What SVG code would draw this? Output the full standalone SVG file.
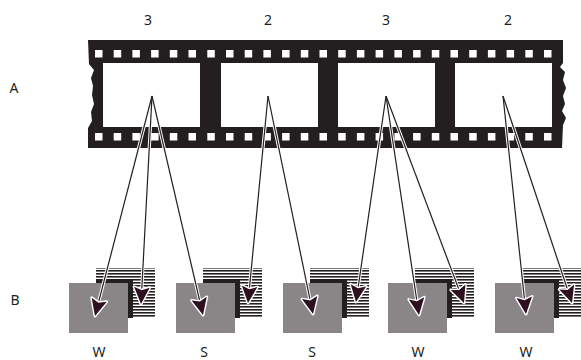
<svg xmlns="http://www.w3.org/2000/svg" width="581" height="360" viewBox="0 0 581 360">
<style>
.lbl{font-family:"Noto Sans","Liberation Sans",sans-serif;font-size:14px;fill:#231f20;text-anchor:middle}
.win{fill:#fff}
.hole{fill:#fff}
.gray{fill:#8a8688}
.shadow{fill:#231f20}
.stripes{fill:url(#hatch)}
.casing{stroke:#fff;stroke-width:3.2;fill:none}
.wire{stroke:#231f20;stroke-width:1.2;fill:none;marker-end:url(#ah)}
</style>
<defs>
<pattern id="hatch" patternUnits="userSpaceOnUse" x="0" y="0" width="4" height="3">
<rect x="0" y="0" width="4" height="3" fill="#fff"/>
<rect x="0" y="0" width="4" height="1.6" fill="#231f20"/>
</pattern>
<marker id="ah" markerUnits="userSpaceOnUse" markerWidth="24" markerHeight="24" refX="0" refY="0" viewBox="-18 -10 20 20" orient="auto" overflow="visible">
<path d="M0,0 L-14,-6.5 L-11.5,0 L-14,6.5 Z" fill="#2e0f20" stroke="#fff" stroke-width="2.4" stroke-linejoin="round" paint-order="stroke"/>
</marker>
</defs>
<rect width="581" height="360" fill="#fff"/>

<g id="labels">
<text class="lbl" x="148" y="25">3</text>
<text class="lbl" x="268" y="25">2</text>
<text class="lbl" x="386" y="25">3</text>
<text class="lbl" x="508" y="25">2</text>
<text class="lbl" x="14" y="93">A</text>
<text class="lbl" x="15" y="305">B</text>
<text class="lbl" x="99" y="357">W</text>
<text class="lbl" x="204" y="357">S</text>
<text class="lbl" x="312" y="357">S</text>
<text class="lbl" x="418" y="357">W</text>
<text class="lbl" x="526" y="357">W</text>
</g>

<g id="filmstrip">
<path fill="#231f20" d="M88,40 L563,40 L563,63 L560,67 L565,72 L563,80 L566,88 L563,96 L565,104 L562,111 L566,118 L563,125 L562,148 L88,148 L88,128 L92,121 L91,112 L94,104 L92,95 L93,86 L91,78 L94,70 L89,64 Z"/>
<rect class="win" x="103" y="63" width="97" height="64"/>
<rect class="win" x="221" y="63" width="97" height="64"/>
<rect class="win" x="338" y="63" width="97" height="64"/>
<rect class="win" x="455" y="63" width="97" height="64"/>
<g id="holes-top">
<rect class="hole" x="95" y="50" width="7.5" height="7.5"/>
<rect class="hole" x="113.7" y="50" width="7.5" height="7.5"/>
<rect class="hole" x="132.4" y="50" width="7.5" height="7.5"/>
<rect class="hole" x="151.1" y="50" width="7.5" height="7.5"/>
<rect class="hole" x="169.8" y="50" width="7.5" height="7.5"/>
<rect class="hole" x="188.5" y="50" width="7.5" height="7.5"/>
<rect class="hole" x="207.3" y="50" width="7.5" height="7.5"/>
<rect class="hole" x="226" y="50" width="7.5" height="7.5"/>
<rect class="hole" x="244.7" y="50" width="7.5" height="7.5"/>
<rect class="hole" x="263.4" y="50" width="7.5" height="7.5"/>
<rect class="hole" x="282.1" y="50" width="7.5" height="7.5"/>
<rect class="hole" x="300.8" y="50" width="7.5" height="7.5"/>
<rect class="hole" x="319.5" y="50" width="7.5" height="7.5"/>
<rect class="hole" x="338.2" y="50" width="7.5" height="7.5"/>
<rect class="hole" x="356.9" y="50" width="7.5" height="7.5"/>
<rect class="hole" x="375.6" y="50" width="7.5" height="7.5"/>
<rect class="hole" x="394.4" y="50" width="7.5" height="7.5"/>
<rect class="hole" x="413.1" y="50" width="7.5" height="7.5"/>
<rect class="hole" x="431.8" y="50" width="7.5" height="7.5"/>
<rect class="hole" x="450.5" y="50" width="7.5" height="7.5"/>
<rect class="hole" x="469.2" y="50" width="7.5" height="7.5"/>
<rect class="hole" x="487.9" y="50" width="7.5" height="7.5"/>
<rect class="hole" x="506.6" y="50" width="7.5" height="7.5"/>
<rect class="hole" x="525.3" y="50" width="7.5" height="7.5"/>
<rect class="hole" x="544" y="50" width="7.5" height="7.5"/>
</g>
<g id="holes-bottom">
<rect class="hole" x="95" y="133" width="7.5" height="7.5"/>
<rect class="hole" x="113.7" y="133" width="7.5" height="7.5"/>
<rect class="hole" x="132.4" y="133" width="7.5" height="7.5"/>
<rect class="hole" x="151.1" y="133" width="7.5" height="7.5"/>
<rect class="hole" x="169.8" y="133" width="7.5" height="7.5"/>
<rect class="hole" x="188.5" y="133" width="7.5" height="7.5"/>
<rect class="hole" x="207.3" y="133" width="7.5" height="7.5"/>
<rect class="hole" x="226" y="133" width="7.5" height="7.5"/>
<rect class="hole" x="244.7" y="133" width="7.5" height="7.5"/>
<rect class="hole" x="263.4" y="133" width="7.5" height="7.5"/>
<rect class="hole" x="282.1" y="133" width="7.5" height="7.5"/>
<rect class="hole" x="300.8" y="133" width="7.5" height="7.5"/>
<rect class="hole" x="319.5" y="133" width="7.5" height="7.5"/>
<rect class="hole" x="338.2" y="133" width="7.5" height="7.5"/>
<rect class="hole" x="356.9" y="133" width="7.5" height="7.5"/>
<rect class="hole" x="375.6" y="133" width="7.5" height="7.5"/>
<rect class="hole" x="394.4" y="133" width="7.5" height="7.5"/>
<rect class="hole" x="413.1" y="133" width="7.5" height="7.5"/>
<rect class="hole" x="431.8" y="133" width="7.5" height="7.5"/>
<rect class="hole" x="450.5" y="133" width="7.5" height="7.5"/>
<rect class="hole" x="469.2" y="133" width="7.5" height="7.5"/>
<rect class="hole" x="487.9" y="133" width="7.5" height="7.5"/>
<rect class="hole" x="506.6" y="133" width="7.5" height="7.5"/>
<rect class="hole" x="525.3" y="133" width="7.5" height="7.5"/>
<rect class="hole" x="544" y="133" width="7.5" height="7.5"/>
</g>
</g>

<g id="field-1">
<rect class="stripes" x="96" y="268" width="59" height="50"/>
<rect class="shadow" x="96" y="279" width="37" height="39"/>
<rect class="gray" x="69" y="283" width="59" height="50"/>
</g>
<g id="field-2">
<rect class="stripes" x="203" y="268" width="59" height="50"/>
<rect class="shadow" x="203" y="279" width="37" height="39"/>
<rect class="gray" x="176" y="283" width="59" height="50"/>
</g>
<g id="field-3">
<rect class="stripes" x="310" y="268" width="59" height="50"/>
<rect class="shadow" x="310" y="279" width="37" height="39"/>
<rect class="gray" x="283" y="283" width="59" height="50"/>
</g>
<g id="field-4">
<rect class="stripes" x="415" y="268" width="59" height="50"/>
<rect class="shadow" x="415" y="279" width="37" height="39"/>
<rect class="gray" x="388" y="283" width="59" height="50"/>
</g>
<g id="field-5">
<rect class="stripes" x="522" y="268" width="59" height="50"/>
<rect class="shadow" x="522" y="279" width="37" height="39"/>
<rect class="gray" x="495" y="283" width="59" height="50"/>
</g>

<g id="connectors">
<g class="casings">
<path class="casing" d="M152,96 L95,316"/>
<path class="casing" d="M152,96 L141,304"/>
<path class="casing" d="M152,96 L203,315"/>
<path class="casing" d="M268,96 L248,303"/>
<path class="casing" d="M268,96 L313,314"/>
<path class="casing" d="M386,96 L356,302"/>
<path class="casing" d="M386,96 L419,315"/>
<path class="casing" d="M386,96 L464,303"/>
<path class="casing" d="M503,96 L526,314"/>
<path class="casing" d="M503,96 L572,303"/>
</g>
<path class="wire" d="M152,96 L95,316"/>
<path class="wire" d="M152,96 L141,304"/>
<path class="wire" d="M152,96 L203,315"/>
<path class="wire" d="M268,96 L248,303"/>
<path class="wire" d="M268,96 L313,314"/>
<path class="wire" d="M386,96 L356,302"/>
<path class="wire" d="M386,96 L419,315"/>
<path class="wire" d="M386,96 L464,303"/>
<path class="wire" d="M503,96 L526,314"/>
<path class="wire" d="M503,96 L572,303"/>
</g>
</svg>
